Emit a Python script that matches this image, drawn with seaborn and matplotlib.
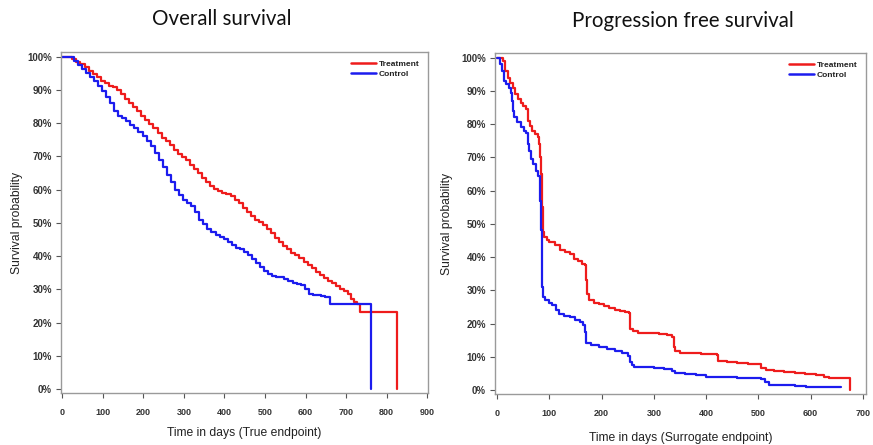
import numpy as np
import pandas as pd
import matplotlib
matplotlib.use("Agg")
import matplotlib.pyplot as plt
import seaborn as sns

# ---- Overall survival (True endpoint) ----
os_trt_t = [0, 25, 35, 45, 55, 65, 75, 85, 95, 105, 115, 125, 135, 145, 155, 165, 175, 185,
            195, 205, 215, 225, 235, 245, 255, 265, 275, 285, 295, 305, 315, 325, 335, 345,
            355, 365, 375, 385, 395, 405, 415, 425, 435, 445, 455, 465, 475, 485, 495, 505,
            515, 525, 535, 545, 555, 565, 575, 585, 595, 605, 615, 625, 635, 645, 655, 665,
            675, 685, 695, 705, 712, 720, 728, 735, 826]
os_trt_s = [100, 99.3, 98.5, 97.7, 96.8, 95.8, 94.8, 93.8, 92.8, 92, 91.3, 90.8, 90, 88.8,
            87.3, 86, 84.8, 83.6, 82.2, 80.8, 79.6, 78.4, 77, 75.6, 74.6, 73.4, 72, 70.8, 69.9,
            69, 67.5, 66.2, 65, 63.6, 62.2, 61, 60.3, 59.6, 59, 58.6, 58, 57, 56, 54.6, 53.2,
            52, 51, 50.2, 49.2, 48.2, 47, 45.5, 44.2, 43, 42, 41, 40.2, 39.3, 38.3, 37.2, 36.3,
            35.3, 34.3, 33.3, 32.5, 31.8, 31, 30.2, 29.6, 28.5, 27, 26.2, 25.5, 23.2, 0]

os_ctl_t = [0, 28, 38, 48, 58, 68, 78, 88, 98, 108, 118, 128, 138, 148, 158, 168, 178, 188,
            198, 208, 218, 228, 238, 248, 258, 268, 278, 288, 298, 308, 318, 328, 338, 348,
            358, 368, 378, 388, 398, 408, 418, 428, 438, 448, 458, 468, 478, 488, 498, 508,
            518, 528, 538, 548, 558, 568, 578, 588, 598, 608, 618, 628, 638, 648, 660, 761]
os_ctl_s = [100, 98.8, 97.5, 96.3, 95, 93.8, 92.6, 91.3, 89.8, 88, 86, 83.6, 82, 81.4, 80.5,
            79.5, 78.5, 77.4, 76, 74.5, 73, 71, 69, 66.8, 64.5, 62.2, 60, 58.5, 57, 56, 55,
            53.2, 51, 49.5, 48.2, 47.2, 46.4, 45.8, 45.2, 44.3, 43.2, 42.4, 42, 41.3, 40.2,
            39.2, 38, 36.8, 35.6, 34.6, 34, 33.7, 33.6, 33.2, 32.6, 32, 31.6, 31.2, 30, 28.6,
            28.4, 28.2, 28, 27.6, 25.5, 0]

# ---- Progression free survival (Surrogate endpoint) ----
pfs_trt_t = [0, 12, 16, 20, 25, 30, 35, 40, 45, 50, 55, 59, 63, 67, 72, 78, 81, 83, 84, 85,
             86, 87, 88, 90, 95, 100, 110, 120, 130, 140, 148, 155, 163, 168, 170, 172, 175,
             185, 195, 205, 215, 225, 235, 245, 252, 255, 260, 270, 290, 310, 325, 335, 338,
             341, 350, 370, 390, 410, 420, 423, 440, 460, 480, 500, 505, 515, 530, 550, 570,
             590, 610, 625, 635, 676]
pfs_trt_s = [100, 99, 96, 94, 92.5, 91, 89, 87.5, 86.5, 85.5, 84.5, 81, 79.5, 78, 77, 76, 74,
             70, 65, 60, 55, 50, 47.5, 46, 45, 44.5, 43.5, 42.2, 41.5, 40.8, 39.5, 38.8, 38,
             37.5, 33, 29, 27, 26.3, 25.8, 25.3, 24.8, 24.2, 23.8, 23.6, 23.3, 18.5, 17.8,
             17.3, 17.1, 17, 16.5, 16, 13, 11.8, 11.2, 11, 10.8, 10.7, 10.5, 8.8, 8.4, 8.1,
             7.9, 7.7, 6.5, 6, 5.7, 5.5, 5.2, 4.9, 4.5, 4, 3.6, 0]

pfs_ctl_t = [0, 6, 10, 14, 18, 22, 26, 28, 30, 33, 38, 45, 52, 56, 59, 62, 65, 69, 74, 79,
             82, 83, 84, 85, 86, 88, 92, 100, 106, 112, 118, 128, 140, 150, 158, 164, 168,
             171, 180, 195, 210, 225, 240, 250, 254, 258, 262, 280, 300, 320, 335, 340, 360,
             380, 400, 430, 460, 490, 505, 512, 520, 545, 570, 592, 659]
pfs_ctl_s = [100, 98, 96, 93, 92, 91, 89.5, 87, 84, 82, 80.5, 79, 78, 77.2, 74, 72, 69.5, 68,
             66, 64.5, 62, 57, 48, 40, 31, 28, 27, 26.3, 25.5, 24, 23, 22.4, 22, 21.2, 20.5,
             19.5, 17.5, 14.2, 13.6, 13, 12.2, 11.6, 11, 10.3, 8.5, 7.5, 7, 6.8, 6.6, 6.3,
             5.8, 5.2, 4.8, 4.4, 4, 3.8, 3.6, 3.5, 3.3, 2.5, 1.6, 1.4, 1.2, 0.9, 0.8]

groups = ["Treatment", "Control"]
titles = ["Overall survival", "Progression free survival"]
xlabels = ["Time in days (True endpoint)", "Time in days (Surrogate endpoint)"]
y_ticks = [0, 10, 20, 30, 40, 50, 60, 70, 80, 90, 100]
y_tick_labels = [f"{v}%" for v in y_ticks]
os_x_ticks = [0, 100, 200, 300, 400, 500, 600, 700, 800, 900]
pfs_x_ticks = [0, 100, 200, 300, 400, 500, 600, 700]


def make_frame(t_trt, s_trt, t_ctl, s_ctl):
    a = pd.DataFrame({"t": t_trt, "s": s_trt, "group": groups[0]})
    b = pd.DataFrame({"t": t_ctl, "s": s_ctl, "group": groups[1]})
    return pd.concat([a, b], ignore_index=True)


sns.set_style("white")
plt.rcParams["font.family"] = ["Liberation Sans", "DejaVu Sans"]

fig = plt.figure(figsize=(8.73, 4.45), dpi=100)
ax1 = fig.add_axes([61 / 873, 52 / 445, 367 / 873, 341 / 445])
ax2 = fig.add_axes([495 / 873, 51 / 445, 371 / 873, 341 / 445])

palette = {"Treatment": "#ee1c1c", "Control": "#1c1cee"}

specs = [
    (ax1, make_frame(os_trt_t, os_trt_s, os_ctl_t, os_ctl_s), os_x_ticks, (-3, 902),
     xlabels[0], (-0.104, -0.099)),
    (ax2, make_frame(pfs_trt_t, pfs_trt_s, pfs_ctl_t, pfs_ctl_s), pfs_x_ticks, (-4, 706),
     xlabels[1], (-0.113, -0.112)),
]

for ax, df, xt, xlim, xl, (ylx, xly) in specs:
    sns.lineplot(data=df, x="t", y="s", hue="group", hue_order=groups, palette=palette,
                 estimator=None, errorbar=None, sort=False, drawstyle="steps-post",
                 linewidth=1.6, ax=ax)
    ax.set_xlim(*xlim)
    ax.set_ylim(-1.2, 101.4)
    ax.set_xticks(xt)
    ax.set_xticklabels([str(v) for v in xt], fontsize=6.5, fontweight="bold", color="#333333")
    ax.set_yticks(y_ticks)
    ax.set_yticklabels(y_tick_labels, fontsize=7, fontweight="bold", color="#333333")
    ax.tick_params(axis="both", which="major", direction="out", length=3.5, width=0.8,
                   color="#555555", bottom=True, left=True)
    ax.tick_params(axis="x", pad=7)
    ax.tick_params(axis="y", pad=3)
    for sp in ax.spines.values():
        sp.set_color("#9a9a9a")
        sp.set_linewidth(1.0)
    ax.set_xlabel(xl, fontsize=8.7, color="#222222")
    ax.set_ylabel("Survival probability", fontsize=8.7, color="#222222")
    ax.yaxis.set_label_coords(ylx, 0.5)
    ax.xaxis.set_label_coords(0.5, xly)
    leg = ax.legend(loc="upper right", frameon=False, prop={"size": 6, "weight": "bold"},
                    handlelength=3.0, handletextpad=0.3, labelspacing=0.25, borderaxespad=0.6)
    for line in leg.get_lines():
        line.set_linewidth(1.8)
    for txt in leg.get_texts():
        txt.set_color("#222222")

fig.text(222 / 873, 1 - 19 / 445, titles[0], ha="center", va="center", fontsize=14.8,
         family=["Lato", "DejaVu Sans"], color="#111111")
fig.text(683 / 873, 1 - 21 / 445, titles[1], ha="center", va="center", fontsize=14.8,
         family=["Lato", "DejaVu Sans"], color="#111111")

fig.savefig("out.png", dpi=100)
